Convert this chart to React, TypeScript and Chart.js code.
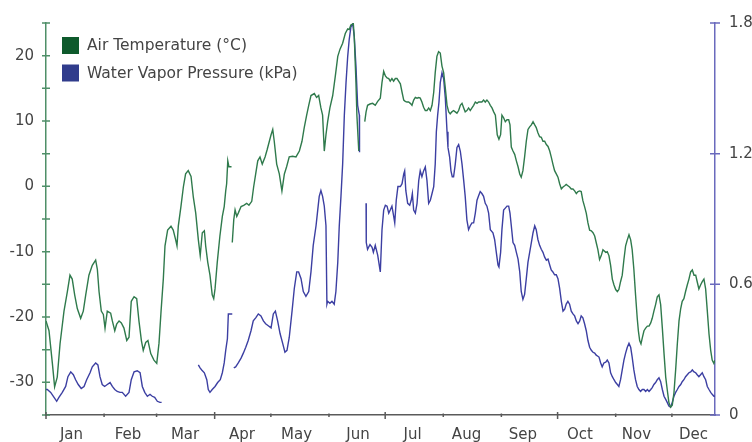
import React, { useEffect, useRef } from 'react';
import { Chart, registerables } from 'chart.js';

Chart.register(...registerables);

// ---- Data (day of year, value); null marks a gap in the record ----
const MONTHS = ['Jan', 'Feb', 'Mar', 'Apr', 'May', 'Jun', 'Jul', 'Aug', 'Sep', 'Oct', 'Nov', 'Dec'];
const MONTH_START_DAYS = [0, 31, 59, 90, 120, 151, 181, 212, 243, 273, 304, 334];
const MONTH_LABEL_DAYS = [13.6, 43.8, 74.2, 104.6, 133.7, 166.5, 195.6, 224.4, 254.5, 284.9, 315.1, 345.5];
const TEMP_LABEL_TICKS = [-30, -20, -10, 0, 10, 20];
const TEMP_MARK_TICKS = [-35, -30, -25, -20, -15, -10, -5, 0, 5, 10, 15, 20, 25];
const VAPOR_TICKS = [0, 0.6, 1.2, 1.8];

const AIR_TEMPERATURE: [number, number | null][] = [
  [0.0, -20.6], [1.6, -22.1], [3.4, -27.1], [4.6, -30.7], [6.0, -29.2], [7.5, -24.1], [9.6, -19.1],
  [11.4, -16.1], [12.8, -13.6], [14.0, -14.2], [15.3, -16.6], [16.7, -18.7], [18.5, -20.2], [19.9, -19.1],
  [21.2, -16.6], [22.9, -13.6], [24.7, -12.1], [26.5, -11.3], [27.4, -12.7], [28.3, -16.1], [29.5, -19.1],
  [30.6, -19.6], [31.5, -21.7], [32.7, -19.1], [34.5, -19.4], [35.4, -20.6], [36.7, -22.1], [37.7, -21.1],
  [39.0, -20.6], [40.2, -20.9], [41.6, -21.7], [43.1, -23.6], [44.3, -23.1], [45.5, -17.6], [47.0, -16.9],
  [48.4, -17.2], [49.6, -20.6], [50.9, -23.6], [51.9, -25.1], [53.2, -23.9], [54.4, -23.6], [55.9, -25.6],
  [57.6, -26.6], [59.1, -27.1], [60.3, -24.0], [61.4, -19.1], [62.6, -14.2], [63.5, -9.1], [64.9, -6.7],
  [66.7, -6.1], [67.9, -6.7], [69.2, -8.2], [69.9, -9.1], [70.6, -6.1], [72.0, -3.1], [73.3, -0.1],
  [74.5, 1.9], [75.9, 2.4], [77.4, 1.5], [78.6, -1.6], [79.9, -4.1], [81.3, -8.2], [82.3, -10.6],
  [83.4, -7.1], [84.5, -6.8], [85.2, -9.1], [86.3, -11.6], [87.5, -13.6], [88.7, -16.6], [89.5, -17.2],
  [90.2, -15.7], [91.4, -11.6], [92.8, -7.6], [94.1, -4.6], [95.1, -3.1], [95.9, -0.7], [96.4, 0.4],
  [97.0, 3.9], [97.6, 3.0], [99.0, 3.0], [99.2, null],
  [99.4, -8.6], [100.2, -5.1], [100.9, -3.6], [101.8, -4.6], [102.6, -4.1], [104.1, -3.1], [105.5, -2.9],
  [107.1, -2.6], [108.3, -2.9], [109.8, -2.3], [110.8, -0.1], [111.9, 1.9], [113.0, 3.9], [114.2, 4.5],
  [115.4, 3.4], [116.9, 4.5], [118.0, 5.6], [120.1, 7.9], [121.0, 8.7], [121.8, 6.9], [123.1, 3.4],
  [124.5, 1.9], [125.9, -0.7], [127.2, 1.9], [128.4, 3.0], [129.8, 4.5], [131.6, 4.6], [133.4, 4.5],
  [135.2, 5.4], [136.6, 6.9], [137.8, 9.0], [139.1, 10.9], [140.2, 12.4], [141.4, 13.9], [143.2, 14.2],
  [144.4, 13.6], [145.5, 13.9], [146.7, 12.0], [147.6, 10.9], [148.5, 5.4], [149.4, 7.9], [150.3, 9.9],
  [151.5, 12.0], [153.0, 13.9], [154.4, 16.9], [155.7, 19.9], [156.9, 21.0], [158.3, 21.9], [159.7, 23.4],
  [161.0, 24.1], [161.8, 24.0], [162.7, 24.7], [164.0, 24.9], [164.5, 22.9], [165.4, 15.9], [165.9, 10.9],
  [166.9, 5.4], [168.0, null],
  [170.1, 9.9], [170.8, 11.4], [171.6, 12.4], [172.9, 12.6], [174.3, 12.7], [175.7, 12.4], [177.0, 13.0],
  [178.4, 13.5], [179.3, 15.9], [180.2, 17.6], [181.1, 16.9], [182.0, 16.6], [182.9, 16.5], [183.7, 16.1],
  [184.6, 16.5], [185.5, 16.1], [186.4, 16.5], [187.3, 16.5], [188.2, 16.1], [189.1, 15.7], [190.0, 14.4],
  [190.9, 13.2], [191.7, 13.0], [192.6, 12.9], [193.5, 12.9], [194.4, 12.7], [195.3, 12.4], [196.2, 13.2],
  [197.1, 13.6], [198.0, 13.5], [198.9, 13.6], [199.7, 13.5], [200.6, 12.9], [201.5, 12.1], [202.4, 11.6],
  [203.3, 11.6], [204.2, 12.0], [205.1, 11.6], [206.0, 12.4], [206.9, 14.4], [207.7, 17.4], [208.6, 19.9],
  [209.5, 20.6], [210.4, 20.4], [211.3, 18.4], [212.2, 17.4], [213.1, 15.0], [214.0, 12.4], [214.9, 11.4],
  [215.7, 11.1], [216.6, 11.4], [217.5, 11.6], [218.4, 11.4], [219.3, 11.2], [220.2, 11.6], [221.1, 12.4],
  [222.0, 12.7], [222.9, 12.0], [223.7, 11.4], [224.6, 11.6], [225.5, 12.0], [226.4, 11.6], [227.3, 12.0],
  [228.2, 12.4], [229.1, 12.9], [230.0, 12.7], [230.9, 12.9], [231.7, 12.9], [232.6, 12.9], [233.5, 13.2],
  [234.4, 12.9], [235.3, 13.2], [236.2, 12.9], [237.1, 12.4], [238.0, 12.0], [238.9, 11.4], [239.8, 10.9],
  [240.8, 7.9], [241.7, 7.2], [242.6, 7.9], [243.3, 10.9], [244.2, 10.5], [245.1, 9.9], [246.0, 10.2],
  [246.9, 10.2], [247.6, 9.4], [248.3, 6.0], [249.2, 5.4], [250.1, 4.9], [251.0, 3.9], [251.9, 3.0],
  [252.8, 1.9], [253.6, 1.4], [254.5, 2.4], [255.4, 4.5], [256.3, 6.9], [257.2, 8.7], [258.1, 9.1],
  [259.0, 9.4], [259.9, 9.9], [260.8, 9.4], [261.6, 9.0], [262.5, 8.2], [263.4, 7.6], [264.3, 7.5],
  [265.2, 6.9], [266.1, 6.9], [267.0, 6.4], [267.9, 6.1], [268.8, 5.4], [269.6, 4.5], [270.5, 3.4],
  [271.4, 2.4], [272.3, 1.9], [273.2, 1.4], [274.1, 0.4], [275.0, -0.4], [275.9, -0.1], [276.8, 0.1],
  [277.6, 0.3], [278.5, 0.1], [279.4, -0.1], [280.3, -0.4], [281.2, -0.4], [282.1, -0.7], [283.0, -1.1],
  [283.9, -0.8], [284.8, -0.7], [285.6, -0.8], [286.5, -2.2], [287.4, -3.1], [288.3, -4.1], [289.2, -5.6],
  [290.1, -6.7], [291.0, -6.8], [291.9, -7.1], [292.8, -7.6], [293.6, -8.6], [294.5, -9.7], [295.4, -11.2],
  [296.3, -10.6], [297.2, -9.7], [298.7, -10.1], [299.5, -10.0], [300.4, -10.6], [301.3, -12.1], [302.2, -14.2],
  [303.1, -15.1], [304.0, -15.8], [304.9, -16.1], [305.7, -15.8], [306.6, -14.6], [307.5, -13.6], [308.4, -11.2],
  [309.3, -9.1], [310.2, -8.2], [311.1, -7.4], [312.0, -8.2], [312.8, -9.7], [313.7, -12.7], [314.6, -16.6],
  [315.5, -20.2], [316.1, -22.1], [316.8, -23.6], [317.5, -24.1], [318.2, -23.2], [319.1, -22.1], [320.0, -21.7],
  [320.9, -21.4], [321.8, -21.4], [322.7, -20.9], [323.5, -20.2], [324.4, -19.1], [325.3, -18.1], [326.2, -16.9],
  [327.1, -16.6], [328.0, -18.1], [328.9, -21.7], [329.8, -25.6], [330.7, -29.2], [331.5, -31.1], [332.4, -33.1],
  [333.3, -33.8], [334.2, -33.5], [335.1, -31.6], [336.0, -28.1], [336.9, -24.1], [337.8, -20.6], [338.7, -18.7],
  [339.5, -17.6], [340.4, -17.2], [341.3, -16.1], [342.2, -15.1], [343.1, -14.2], [344.0, -13.1], [344.9, -12.8],
  [345.8, -13.6], [346.7, -13.6], [347.5, -14.6], [348.4, -15.7], [349.3, -15.1], [350.2, -14.6], [351.1, -14.2],
  [352.0, -15.7], [352.9, -19.1], [353.8, -22.6], [354.7, -25.1], [355.5, -26.6], [356.4, -27.1], [357.0, -26.6],
];

const WATER_VAPOR_PRESSURE: [number, number | null][] = [
  [0.0, 0.117], [0.7, 0.117], [2.5, 0.104], [4.3, 0.081], [5.7, 0.063], [6.9, 0.081], [8.7, 0.104],
  [10.5, 0.131], [11.7, 0.176], [13.2, 0.198], [14.6, 0.185], [15.8, 0.162], [17.2, 0.140], [18.8, 0.122],
  [20.3, 0.131], [21.7, 0.162], [23.5, 0.194], [24.7, 0.221], [26.5, 0.239], [27.7, 0.230], [28.8, 0.176],
  [30.0, 0.140], [31.3, 0.131], [32.7, 0.140], [34.2, 0.149], [35.4, 0.131], [36.7, 0.117], [38.0, 0.108],
  [39.5, 0.104], [40.7, 0.104], [42.5, 0.086], [44.3, 0.104], [45.5, 0.162], [47.0, 0.198], [48.7, 0.203],
  [50.2, 0.194], [51.4, 0.131], [52.7, 0.104], [54.1, 0.086], [55.5, 0.095], [56.7, 0.086], [58.0, 0.081],
  [59.4, 0.063], [60.8, 0.058], [61.7, 0.058], [62.0, null],
  [81.3, 0.230], [82.2, 0.216], [83.1, 0.207], [84.5, 0.194], [85.8, 0.162], [86.6, 0.117], [87.5, 0.104],
  [88.7, 0.117], [90.2, 0.131], [91.6, 0.149], [93.0, 0.162], [94.1, 0.194], [95.1, 0.239], [95.9, 0.297],
  [96.8, 0.350], [97.3, 0.464], [99.4, 0.464], [99.8, null],
  [100.2, 0.216], [101.2, 0.221], [102.6, 0.239], [104.1, 0.261], [105.3, 0.284], [106.6, 0.311], [107.9, 0.342],
  [109.4, 0.387], [110.6, 0.432], [111.9, 0.446], [113.3, 0.464], [114.7, 0.455], [116.0, 0.432], [117.2, 0.419],
  [118.6, 0.410], [120.1, 0.400], [121.3, 0.464], [122.4, 0.477], [123.6, 0.432], [124.9, 0.374], [126.3, 0.329],
  [127.5, 0.288], [128.6, 0.297], [129.8, 0.356], [131.3, 0.477], [132.5, 0.581], [133.8, 0.657], [134.8, 0.657],
  [136.1, 0.626], [137.3, 0.567], [138.7, 0.545], [140.2, 0.567], [141.4, 0.657], [142.6, 0.779], [144.1, 0.869],
  [145.0, 0.941], [145.8, 1.004], [146.7, 1.031], [147.6, 1.004], [148.5, 0.959], [149.4, 0.869], [149.9, 0.509],
  [150.3, 0.522], [151.5, 0.513], [152.6, 0.522], [153.8, 0.509], [154.7, 0.567], [155.7, 0.702], [156.5, 0.869],
  [157.4, 1.004], [158.3, 1.152], [159.2, 1.377], [160.1, 1.526], [161.0, 1.647], [161.8, 1.724], [162.7, 1.782],
  [163.7, 1.796], [164.5, 1.737], [165.4, 1.602], [166.3, 1.422], [167.2, 1.377], [167.3, 1.206], [168.0, null],
  [170.8, 0.972], [170.9, 0.792], [171.6, 0.761], [172.9, 0.783], [174.0, 0.770], [174.7, 0.747], [175.7, 0.779],
  [177.0, 0.734], [178.4, 0.657], [179.3, 0.851], [180.2, 0.941], [181.1, 0.963], [182.0, 0.959], [182.9, 0.927],
  [183.7, 0.941], [184.6, 0.959], [185.5, 0.914], [186.1, 0.882], [186.9, 0.986], [187.8, 1.049], [189.1, 1.049],
  [190.0, 1.062], [190.9, 1.107], [191.4, 1.121], [192.0, 1.031], [193.0, 0.972], [194.1, 0.963], [194.9, 0.986],
  [195.5, 1.017], [196.2, 0.941], [197.1, 0.927], [198.0, 0.972], [198.9, 1.076], [199.7, 1.121], [200.6, 1.094],
  [201.5, 1.121], [202.4, 1.139], [203.3, 1.076], [204.2, 0.972], [205.1, 0.986], [206.0, 1.017], [206.9, 1.049],
  [207.7, 1.152], [208.3, 1.301], [209.0, 1.377], [209.7, 1.436], [210.4, 1.526], [211.3, 1.571], [212.2, 1.544],
  [213.1, 1.454], [214.0, 1.301], [214.5, 1.229], [215.4, 1.184], [216.1, 1.121], [216.8, 1.094], [217.5, 1.094],
  [218.4, 1.152], [219.3, 1.229], [220.2, 1.242], [221.1, 1.211], [222.0, 1.152], [222.9, 1.076], [223.7, 1.004],
  [224.6, 0.896], [225.5, 0.851], [226.4, 0.869], [227.3, 0.882], [228.2, 0.882], [229.1, 0.927], [230.0, 0.986],
  [230.9, 1.008], [231.7, 1.026], [232.6, 1.017], [233.5, 1.004], [234.4, 0.972], [235.3, 0.959], [236.2, 0.927],
  [237.1, 0.851], [238.5, 0.837], [239.4, 0.806], [240.3, 0.747], [241.2, 0.689], [241.7, 0.680], [242.6, 0.747],
  [243.3, 0.851], [244.2, 0.941], [245.1, 0.950], [246.0, 0.959], [246.9, 0.959], [247.6, 0.927], [248.3, 0.869],
  [249.2, 0.792], [250.1, 0.779], [251.0, 0.747], [251.9, 0.716], [252.8, 0.657], [253.6, 0.567], [254.5, 0.531],
  [255.4, 0.554], [256.3, 0.626], [257.2, 0.702], [258.1, 0.747], [259.0, 0.792], [259.9, 0.837], [260.8, 0.869],
  [261.6, 0.851], [262.5, 0.806], [263.4, 0.779], [264.3, 0.761], [265.2, 0.747], [266.1, 0.725], [267.0, 0.711],
  [267.9, 0.716], [268.8, 0.689], [269.6, 0.666], [270.5, 0.657], [271.4, 0.644], [272.3, 0.644], [273.2, 0.626],
  [274.1, 0.581], [275.0, 0.522], [275.9, 0.477], [276.8, 0.486], [277.6, 0.509], [278.5, 0.522], [279.4, 0.509],
  [280.3, 0.477], [281.2, 0.464], [282.1, 0.455], [283.0, 0.432], [283.9, 0.419], [284.8, 0.432], [285.6, 0.455],
  [286.5, 0.446], [287.4, 0.419], [288.3, 0.387], [289.2, 0.342], [290.1, 0.311], [291.0, 0.297], [291.9, 0.288],
  [292.8, 0.284], [293.6, 0.275], [294.5, 0.270], [295.1, 0.266], [296.0, 0.239], [296.8, 0.221], [297.7, 0.239],
  [298.7, 0.243], [299.5, 0.252], [300.4, 0.239], [301.3, 0.194], [302.2, 0.176], [303.1, 0.162], [304.0, 0.149],
  [304.9, 0.140], [305.7, 0.131], [306.6, 0.162], [307.5, 0.207], [308.4, 0.252], [309.3, 0.284], [310.2, 0.311],
  [311.1, 0.329], [312.0, 0.311], [312.8, 0.266], [313.7, 0.207], [314.6, 0.162], [315.5, 0.131], [316.4, 0.117],
  [317.3, 0.108], [318.2, 0.117], [319.1, 0.117], [320.0, 0.108], [320.9, 0.117], [321.8, 0.108], [322.7, 0.117],
  [323.5, 0.126], [324.4, 0.140], [325.3, 0.149], [326.2, 0.162], [327.1, 0.171], [328.0, 0.153], [328.9, 0.117],
  [329.8, 0.086], [330.7, 0.072], [331.5, 0.058], [332.4, 0.041], [333.3, 0.036], [334.2, 0.058], [335.1, 0.086],
  [336.0, 0.104], [336.9, 0.117], [337.8, 0.131], [338.7, 0.140], [339.5, 0.153], [340.4, 0.162], [341.3, 0.176],
  [342.2, 0.185], [343.1, 0.194], [344.0, 0.198], [344.9, 0.207], [345.8, 0.198], [346.7, 0.194], [347.5, 0.185],
  [348.4, 0.176], [349.3, 0.185], [350.2, 0.194], [351.1, 0.176], [352.0, 0.162], [352.9, 0.131], [353.8, 0.117],
  [354.7, 0.104], [355.5, 0.095], [356.4, 0.086], [357.0, 0.086],
];

// ---- Styles ----
const FONT = '"DejaVu Sans", sans-serif';
const TEXT_COLOR = '#444444';
const TEMP_LINE = '#2f7a4c';
const VAPOR_LINE = '#3c3fa2';
const TEMP_AXIS = '#4f8f68';
const VAPOR_AXIS = '#6a6abd';
const X_AXIS = '#5a5a5a';
const LEGEND_SWATCHES = ['#0e5a2c', '#303c8c'];

const axisMarks = {
  id: 'axisMarks',
  afterDraw(chart: any) {
    const { ctx, chartArea: a, scales } = chart;
    ctx.save();
    ctx.lineWidth = 1.5;
    ctx.strokeStyle = TEMP_AXIS;
    ctx.beginPath();
    TEMP_MARK_TICKS.forEach((v) => {
      const py = scales.yT.getPixelForValue(v);
      ctx.moveTo(a.left - 4, py);
      ctx.lineTo(a.left + 4, py);
    });
    ctx.stroke();
    ctx.strokeStyle = VAPOR_AXIS;
    ctx.beginPath();
    VAPOR_TICKS.forEach((v) => {
      const py = scales.yV.getPixelForValue(v);
      ctx.moveTo(a.right - 5, py);
      ctx.lineTo(a.right + 5, py);
    });
    ctx.stroke();
    ctx.strokeStyle = X_AXIS;
    ctx.beginPath();
    MONTH_START_DAYS.forEach((d, i) => {
      const px = scales.x.getPixelForValue(d);
      const major = i % 3 === 0;
      ctx.moveTo(px, a.bottom - (major ? 3 : 1.5));
      ctx.lineTo(px, a.bottom + (major ? 4 : 2));
    });
    ctx.stroke();
    ctx.restore();
  },
};

const insideLegend = {
  id: 'insideLegend',
  afterDraw(chart: any) {
    const { ctx, chartArea: a } = chart;
    ctx.save();
    ctx.font = `15.5px ${FONT}`;
    ctx.textBaseline = 'middle';
    chart.data.datasets.forEach((ds: any, i: number) => {
      const top = a.top + 14 + i * 27.5;
      ctx.fillStyle = LEGEND_SWATCHES[i];
      ctx.fillRect(a.left + 16, top, 17, 17);
      ctx.fillStyle = TEXT_COLOR;
      ctx.fillText(ds.label, a.left + 41, top + 9);
    });
    ctx.restore();
  },
};

export default function App() {
  const ref = useRef<HTMLCanvasElement>(null);

  useEffect(() => {
    if (!ref.current) return;
    const chart = new Chart(ref.current, {
      type: 'line',
      data: {
        datasets: [
          {
            label: 'Air Temperature (°C)',
            data: AIR_TEMPERATURE.map(([d, v]) => ({ x: d, y: v })),
            borderColor: TEMP_LINE,
            borderWidth: 1.4,
            pointRadius: 0,
            tension: 0,
            spanGaps: false,
            yAxisID: 'yT',
          },
          {
            label: 'Water Vapor Pressure (kPa)',
            data: WATER_VAPOR_PRESSURE.map(([d, v]) => ({ x: d, y: v })),
            borderColor: VAPOR_LINE,
            borderWidth: 1.4,
            pointRadius: 0,
            tension: 0,
            spanGaps: false,
            yAxisID: 'yV',
          },
        ],
      } as any,
      options: {
        animation: false,
        responsive: false,
        devicePixelRatio: 1,
        layout: { padding: { top: 16, left: 0, right: 0, bottom: 0 } },
        plugins: { legend: { display: false }, tooltip: { enabled: false } },
        scales: {
          x: {
            type: 'linear',
            min: 0,
            max: 357,
            grid: { display: false, drawTicks: false },
            border: { display: true, color: X_AXIS, width: 1.5 },
            afterBuildTicks: (s: any) => {
              s.ticks = MONTH_LABEL_DAYS.map((v) => ({ value: v }));
            },
            afterFit: (s: any) => {
              s.height = 27;
            },
            ticks: {
              autoSkip: false,
              maxRotation: 0,
              padding: 11,
              color: TEXT_COLOR,
              font: { family: FONT, size: 15 },
              callback: (_v: any, i: number) => MONTHS[i],
            },
          },
          yT: {
            type: 'linear',
            position: 'left',
            min: -35,
            max: 25,
            grid: { display: false, drawTicks: false },
            border: { display: true, color: TEMP_AXIS, width: 1.5 },
            afterBuildTicks: (s: any) => {
              s.ticks = TEMP_LABEL_TICKS.map((v) => ({ value: v }));
            },
            afterFit: (s: any) => {
              s.width = 46;
            },
            ticks: {
              padding: 12,
              color: TEXT_COLOR,
              font: { family: FONT, size: 15 },
              callback: (v: any) => String(v),
            },
          },
          yV: {
            type: 'linear',
            position: 'right',
            min: 0,
            max: 1.8,
            grid: { display: false, drawTicks: false },
            border: { display: true, color: VAPOR_AXIS, width: 1.5 },
            afterBuildTicks: (s: any) => {
              s.ticks = VAPOR_TICKS.map((v) => ({ value: v }));
            },
            afterFit: (s: any) => {
              s.width = 37;
            },
            ticks: {
              padding: 14,
              color: TEXT_COLOR,
              font: { family: FONT, size: 15 },
              callback: (v: any) => (v === 0 ? '0' : Number(v).toFixed(1)),
            },
          },
        },
      } as any,
      plugins: [axisMarks, insideLegend],
    });
    return () => chart.destroy();
  }, []);

  return (
    <div style={{ position: 'fixed', left: 0, top: 0, width: 752, height: 442, background: '#ffffff' }}>
      <canvas ref={ref} width={752} height={442} style={{ display: 'block', width: 752, height: 442 }} />
    </div>
  );
}
